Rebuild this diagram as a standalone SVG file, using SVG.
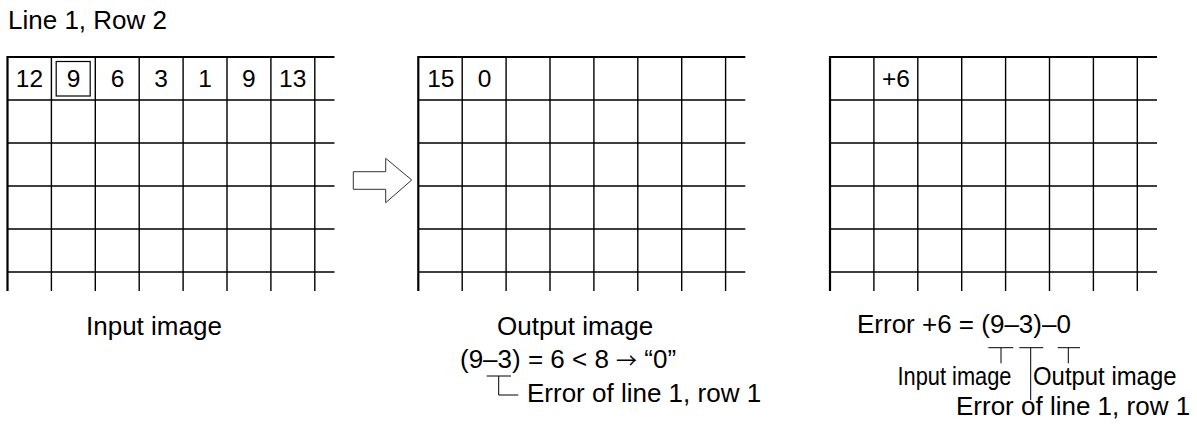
<svg xmlns="http://www.w3.org/2000/svg" width="1197" height="434" viewBox="0 0 1197 434">
<style>
  text { font-family: "Liberation Sans", Arial, sans-serif; fill: #000; }
  .lbl { font-size: 26px; }
  .num { font-size: 24.5px; text-anchor: middle; }
  .arr { font-family: "Noto Sans CJK JP", "DejaVu Sans", sans-serif; font-size: 21px; }
  .narrow { font-family: "Liberation Sans Narrow", "Liberation Sans", sans-serif; font-size: 25px; }
  .g { stroke: #000; stroke-width: 1.4; fill: none; }
  .edge { stroke: #000; stroke-width: 2.2; fill: none; }
  .conn { stroke: #000; stroke-width: 1; fill: none; }
</style>
<defs>
  <g id="grid">
    <path class="g" d="M43.9 0V234M87.8 0V234M131.7 0V234M175.6 0V234M219.5 0V234M263.4 0V234M307.3 0V234"/>
    <path class="g" d="M0 43H327M0 86H327M0 129H327M0 172H327M0 215H327"/>
    <path class="edge" d="M0 234V0H327"/>
  </g>
</defs>
<rect width="1197" height="434" fill="#fff"/>
<text class="lbl" x="8" y="29">Line 1, Row 2</text>

<g id="input-image">
  <use href="#grid" x="7.5" y="57"/>
  <rect x="56.2" y="61.5" width="34" height="34.5" fill="none" stroke="#000" stroke-width="1.2"/>
  <text class="num" x="29.5" y="87">12</text>
  <text class="num" x="73.5" y="87">9</text>
  <text class="num" x="117.5" y="87">6</text>
  <text class="num" x="161" y="87">3</text>
  <text class="num" x="205" y="87">1</text>
  <text class="num" x="248.7" y="87">9</text>
  <text class="num" x="292.7" y="87">13</text>
  <text class="lbl" x="86" y="335">Input image</text>
</g>

<g id="arrow">
  <polygon points="353.3,171.7 385.7,171.7 385.7,158.3 411.7,180 385.7,202.7 385.7,189.3 353.3,189.3" fill="#fff" stroke="#333" stroke-width="1"/>
</g>

<g id="output-image">
  <use href="#grid" x="418.3" y="57"/>
  <text class="num" x="440.8" y="87">15</text>
  <text class="num" x="484.5" y="87">0</text>
  <text class="lbl" x="497" y="335">Output image</text>
  <text class="lbl" x="460" y="368">(9–3) = 6 &lt; 8 <tspan class="arr">→</tspan> “0”</text>
  <text class="lbl" x="527" y="401.5">Error of line 1, row 1</text>
</g>

<g id="error-image">
  <use href="#grid" x="830" y="57"/>
  <text class="num" x="896" y="87">+6</text>
  <text class="lbl" x="857" y="333">Error +6 = (9–3)–0</text>
  <text class="narrow" x="897.5" y="385" textLength="114" lengthAdjust="spacingAndGlyphs">Input image</text>
  <text class="narrow" x="1033" y="385" textLength="143.5" lengthAdjust="spacingAndGlyphs">Output image</text>
  <text class="lbl" x="956" y="415">Error of line 1, row 1</text>
</g>

<g id="connectors">
  <path class="conn" d="M486.7 376H511M498.7 376V395H518.3"/>
  <path class="conn" d="M988.3 347.7H1013.3M1001 347.7V363.3"/>
  <path class="conn" d="M1019.3 347.7H1043.3M1030.7 347.7V400"/>
  <path class="conn" d="M1057.7 347.7H1080M1068.3 347.7V363.3"/>
</g>
</svg>
